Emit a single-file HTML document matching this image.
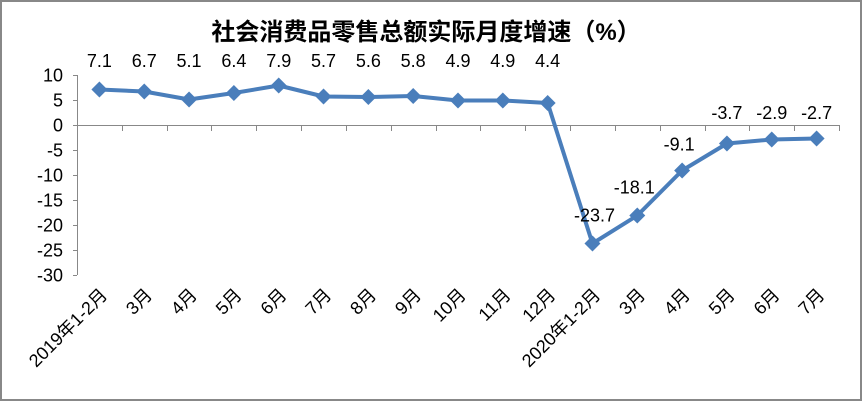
<!DOCTYPE html>
<html><head><meta charset="utf-8"><style>
html,body{margin:0;padding:0;background:#fff;}
svg{display:block;font-family:"Liberation Sans","Noto Sans CJK SC",sans-serif;}
</style></head><body>
<svg width="863" height="402" viewBox="0 0 863 402">
<rect x="1" y="1" width="860" height="399" fill="#fff" stroke="#888" stroke-width="2"/>
<text x="426" y="40" text-anchor="middle" font-size="24" font-weight="bold" fill="#000">社会消费品零售总额实际月度增速（%）</text>
<g stroke="#888" stroke-width="1" fill="none">
<line x1="77.5" y1="75" x2="77.5" y2="275"/>
<line x1="77" y1="125.5" x2="839" y2="125.5"/>
</g>
<g id="yt" stroke="#888"></g>
<g id="yl" font-size="18" text-anchor="end" fill="#000"></g>
<g id="xt" stroke="#888"></g>
<g id="xl" font-size="18" fill="#000"></g>
<polyline id="ln" fill="none" stroke="#4a7ebb" stroke-width="4" stroke-linejoin="round"/>
<g id="mk" fill="#4a7ebb"></g>
<g id="dl" font-size="18" text-anchor="middle" fill="#000"></g>
</svg>
<script>
const ns="http://www.w3.org/2000/svg";
function el(p,t,a,txt){const e=document.createElementNS(ns,t);for(const k in a)e.setAttribute(k,a[k]);if(txt!=null)e.textContent=txt;document.getElementById(p).appendChild(e);}
const Y=v=>125+(-v)*5;
for(let v=10;v>=-30;v-=5){const y=Y(v)+0.5;el('yt','line',{x1:73,y1:y,x2:77,y2:y});el('yl','text',{x:63,y:Y(v)+6.5},v);}
const d=[7.1,6.7,5.1,6.4,7.9,5.7,5.6,5.8,4.9,4.9,4.4,-23.7,-18.1,-9.1,-3.7,-2.9,-2.7];
const lab=["2019年1-2月","3月","4月","5月","6月","7月","8月","9月","10月","11月","12月","2020年1-2月","3月","4月","5月","6月","7月"];
const w=(839-77)/17;
for(let i=0;i<=17;i++){const x=Math.round(77+w*i)+0.5;el('xt','line',{x1:x,y1:125,x2:x,y2:131});}
let pts=[];
d.forEach((v,i)=>{const x=77+w*(i+0.5),y=Y(v);pts.push(x+","+y);
el('mk','path',{d:`M${x} ${y-8}L${x+8} ${y}L${x} ${y+8}L${x-8} ${y}Z`});
let lx=x,ly=67;
if(i==11){lx=x+2;ly=y-22;} if(i==12){lx=x-3;ly=y-22;} if(i==13){lx=x-3;ly=y-20;}
if(i>=14){ly=119;}
el('dl','text',{x:lx,y:ly},v.toFixed(1));
el('xl','text',{x:0,y:0,"text-anchor":"end",transform:`translate(${x+9},${296}) rotate(-45)`},lab[i]);});
document.getElementById('ln').setAttribute('points',pts.join(' '));
</script>
</body></html>
